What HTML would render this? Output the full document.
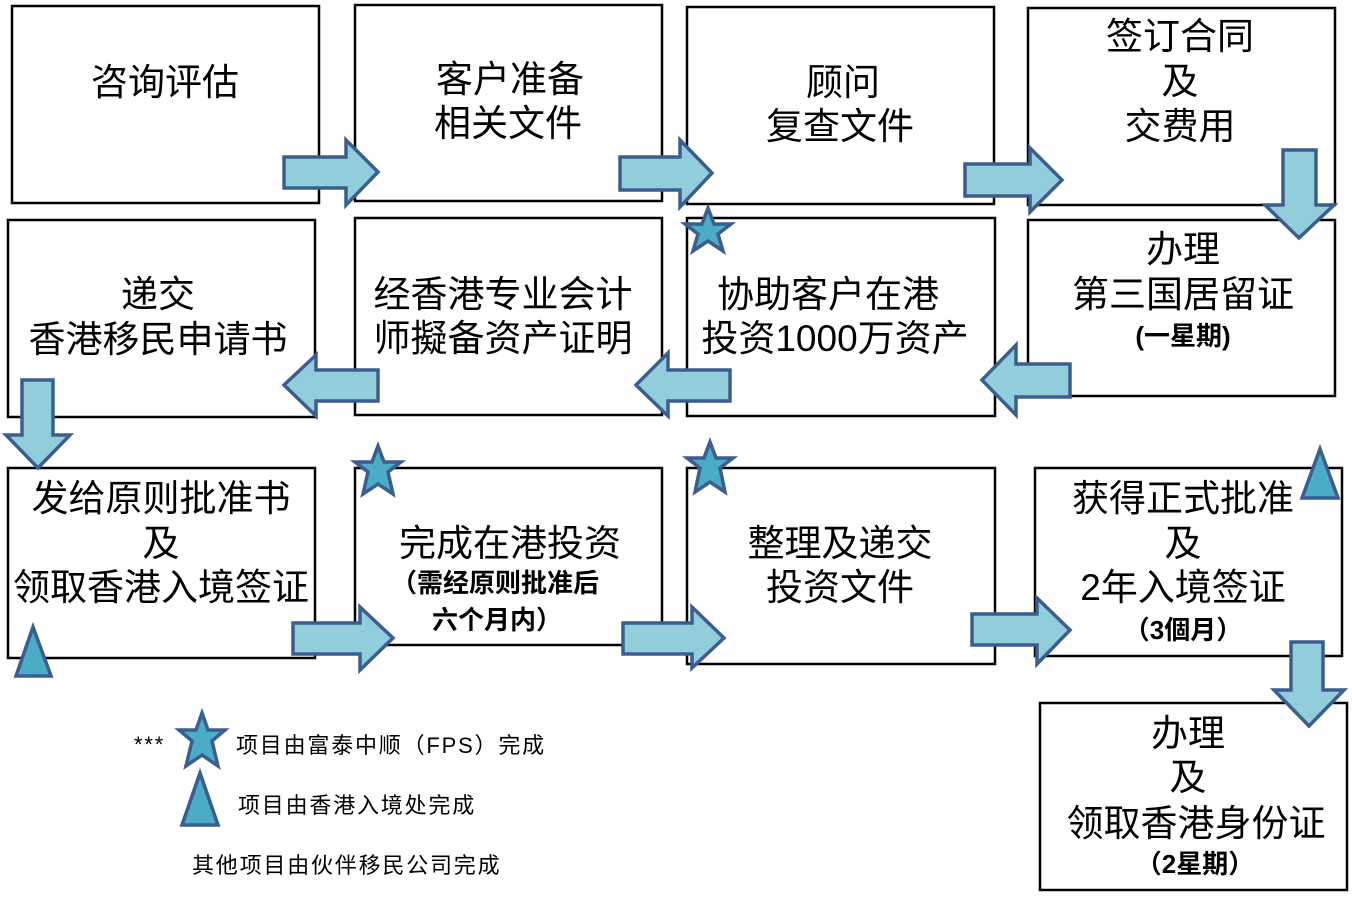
<!DOCTYPE html>
<html><head><meta charset="utf-8"><style>
html,body{margin:0;padding:0;background:#fff;}
svg text{font-family:"Liberation Sans","Noto Sans CJK SC",sans-serif;fill:#000;text-anchor:middle;}
</style></head><body>
<svg width="1352" height="899" viewBox="0 0 1352 899" xmlns="http://www.w3.org/2000/svg">
<g fill="#fff" stroke="#000" stroke-width="2.5">
<rect x="12" y="6" width="307" height="197"/>
<rect x="355" y="5" width="307" height="196"/>
<rect x="687" y="7" width="307" height="197"/>
<rect x="1028" y="8" width="307" height="197"/>
<rect x="8" y="220" width="307" height="197"/>
<rect x="355" y="218" width="307" height="197"/>
<rect x="687" y="218" width="308" height="198"/>
<rect x="1028" y="220" width="307" height="176"/>
<rect x="8" y="468" width="307" height="190"/>
<rect x="355" y="468" width="307" height="177"/>
<rect x="687" y="468" width="308" height="196"/>
<rect x="1035" y="468" width="307" height="188"/>
<rect x="1040" y="703" width="307" height="187"/>
</g>
<g fill="#92CDDC" stroke="#3B5E8F" stroke-width="3.5" stroke-linejoin="miter">
<polygon points="284,157 346,157 346,140 378,172 346,205 346,188 284,188"/>
<polygon points="620,157 680,157 680,140 712,173 680,207 680,190 620,190"/>
<polygon points="965,164 1030,164 1030,148 1062,180 1030,212 1030,196 965,196"/>
<polygon points="1283,150 1316,150 1316,205 1334,205 1299,238 1265,205 1283,205"/>
<polygon points="1070,364 1016,364 1016,345 982,380 1016,415 1016,397 1070,397"/>
<polygon points="730,370 668,370 668,353 636,385 668,416 668,401 730,401"/>
<polygon points="378,370 316,370 316,355 284,385 316,416 316,401 378,401"/>
<polygon points="22,380 53,380 53,435 70,435 38,468 6,435 22,435"/>
<polygon points="293,623 360,623 360,607 393,638 360,670 360,654 293,654"/>
<polygon points="623,623 692,623 692,607 724,638 692,668 692,654 623,654"/>
<polygon points="972,614 1037,614 1037,598 1070,630 1037,664 1037,645 972,645"/>
<polygon points="1291,642 1323,642 1323,690 1344,690 1309,726 1274,690 1291,690"/>
</g>
<g fill="#4BACC6" stroke="#3B5E8F" stroke-width="3.5" stroke-linejoin="miter">
<polygon points="708,208 714,224 731,224 718,234 723,251 708,241 693,251 698,234 685,224 702,224"/>
<polygon points="378,446 384,462 401,462 388,472 393,494 378,484 363,494 368,472 355,462 372,462"/>
<polygon points="710,442 716,458 733,458 720,468 725,492 710,482 695,492 700,468 687,458 704,458"/>
<polygon points="202,713 208,730 225,730 212,741 218,766 202,755 186,766 192,741 179,730 196,730"/>
<polygon points="1320,449 1338,498 1302,498"/>
<polygon points="33,627 51,676 16,676"/>
<polygon points="200,773 218,825 182,825"/>
</g>
<g font-size="37">
<text x="165" y="95">咨询评估</text>
<text x="510" y="92">客户准备</text>
<text x="508" y="136">相关文件</text>
<text x="843" y="95">顾问</text>
<text x="840" y="139">复查文件</text>
<text x="1180" y="49">签订合同</text>
<text x="1180" y="94">及</text>
<text x="1180" y="139">交费用</text>
<text x="158" y="307">递交</text>
<text x="158" y="352">香港移民申请书</text>
<text x="503" y="307">经香港专业会计</text>
<text x="503" y="351">师擬备资产证明</text>
<text x="828" y="307">协助客户在港</text>
<text x="835" y="351">投资1000万资产</text>
<text x="1183" y="262">办理</text>
<text x="1183" y="307">第三国居留证</text>
<text x="161" y="511">发给原则批准书</text>
<text x="161" y="556">及</text>
<text x="161" y="600">领取香港入境签证</text>
<text x="510" y="556">完成在港投资</text>
<text x="840" y="556">整理及递交</text>
<text x="840" y="600">投资文件</text>
<text x="1183" y="511">获得正式批准</text>
<text x="1183" y="556">及</text>
<text x="1183" y="600">2年入境签证</text>
<text x="1188" y="746">办理</text>
<text x="1188" y="790">及</text>
<text x="1196" y="836">领取香港身份证</text>
</g>
<g font-size="26" font-weight="bold">
<text x="1183" y="345">(一星期)</text>
<text x="495" y="592">（需经原则批准后</text>
<text x="497" y="629">六个月内）</text>
<text x="1183" y="639">（3個月）</text>
<text x="1195" y="873">（2星期）</text>
</g>
<g font-size="22" letter-spacing="1.8">
<text x="134" y="752" style="text-anchor:start">***</text>
<text x="236" y="753" style="text-anchor:start">项目由富泰中顺（FPS）完成</text>
<text x="238" y="813" style="text-anchor:start">项目由香港入境处完成</text>
<text x="192" y="873" style="text-anchor:start">其他项目由伙伴移民公司完成</text>
</g>
</svg>
</body></html>
